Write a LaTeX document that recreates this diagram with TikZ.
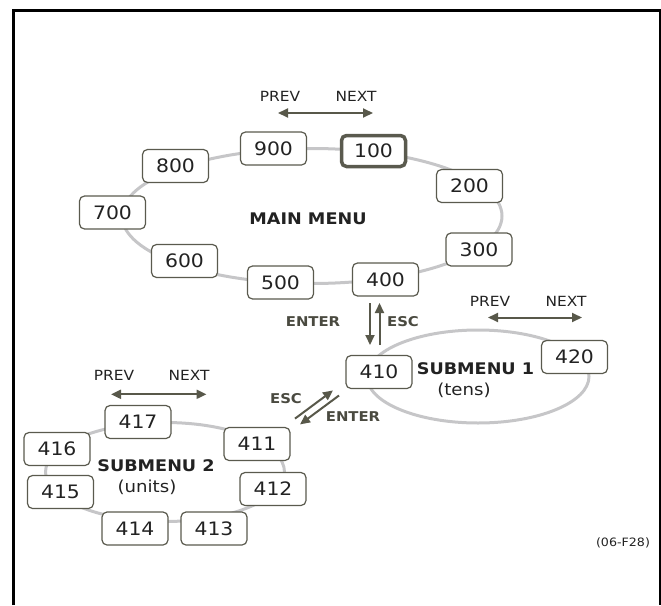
\documentclass[tikz,border=0pt]{standalone}
\usepackage{fontspec}
\setmainfont{DejaVu Sans}[FakeStretch=1.1]
\usetikzlibrary{arrows.meta}
\definecolor{ringc}{HTML}{C6C6C8}
\definecolor{boxc}{HTML}{5A5A4E}
\definecolor{arrc}{HTML}{58584A}
\definecolor{txtc}{HTML}{222222}
\definecolor{lblc}{HTML}{4A4A40}
\tikzset{
  ring/.style={draw=ringc, line width=3pt},
  menubox/.style={draw=boxc, line width=1.2pt, fill=white, rounded corners=5pt,
    minimum width=66pt, minimum height=33pt, inner sep=0pt, text=txtc,
    font=\fontsize{18.5}{20}\selectfont},
  curbox/.style={menubox, line width=3.5pt, minimum width=64pt, minimum height=31pt},
  navtxt/.style={text=txtc, font=\fontsize{14}{16}\selectfont, inner sep=0pt},
  keytxt/.style={text=lblc, font=\bfseries\fontsize{13.5}{15}\selectfont, inner sep=0pt},
  titletxt/.style={text=txtc, font=\bfseries\fontsize{16}{18}\selectfont, inner sep=0pt},
  subtxt/.style={text=txtc, font=\fontsize{16.5}{18}\selectfont, inner sep=0pt},
  navarrow/.style={draw=arrc, line width=2pt, {Triangle[length=10pt,width=9pt]}-{Triangle[length=10pt,width=9pt]}},
  keyarrow/.style={draw=arrc, line width=2pt, -{Triangle[length=10pt,width=9pt]}},
}
\begin{document}
\begin{tikzpicture}[x=1pt,y=-1pt]
\useasboundingbox (0,0) rectangle (661,605);
% frame
\draw[line width=3pt, line cap=butt] (13.5,605) -- (13.5,10.5) -- (660,10.5) -- (660,605);
% rings
\draw[ring] (312,216) ellipse [x radius=190, y radius=67.5];
\draw[ring] (478,376.5) ellipse [x radius=111, y radius=46.5];
\draw[ring] (165,472) ellipse [x radius=119.5, y radius=49.5];
% main menu boxes
\node[menubox] (m900) at (273.5,148.5) {900\hspace{4pt}};
\node[curbox]  (m100) at (373.5,151) {100\hspace{4pt}};
\node[menubox] (m800) at (175.5,166) {800\hspace{4pt}};
\node[menubox] (m200) at (469.5,186) {200\hspace{4pt}};
\node[menubox] (m700) at (112.5,212.5) {700\hspace{4pt}};
\node[menubox] (m300) at (479,249.5) {300\hspace{4pt}};
\node[menubox] (m600) at (184.5,261) {600\hspace{4pt}};
\node[menubox] (m500) at (280.5,282.5) {500\hspace{4pt}};
\node[menubox] (m400) at (385.5,279.5) {400\hspace{4pt}};
% submenu 1
\node[menubox] (s410) at (379,372) {410\hspace{4pt}};
\node[menubox] (s420) at (574.5,357) {420\hspace{4pt}};
% submenu 2
\node[menubox] (u417) at (138,422) {417\hspace{4pt}};
\node[menubox] (u416) at (57,449) {416\hspace{4pt}};
\node[menubox] (u411) at (257,444) {411\hspace{4pt}};
\node[menubox] (u415) at (60.5,492) {415\hspace{4pt}};
\node[menubox] (u412) at (273,489) {412\hspace{4pt}};
\node[menubox] (u414) at (135,528.5) {414\hspace{4pt}};
\node[menubox] (u413) at (214,528.5) {413\hspace{4pt}};
% titles
\node[titletxt,font=\bfseries\fontsize{16}{18}\selectfont] (tmain) at (308,219) {MAIN MENU};
\node[titletxt] (tsub1) at (475.5,369) {SUBMENU 1};
\node[subtxt] (tsub1b) at (464,390.5) {(tens)};
\node[titletxt] (tsub2) at (156,466) {SUBMENU 2};
\node[subtxt] (tsub2b) at (147,487) {(units)};
% nav labels and arrows
\node[navtxt] (p1) at (280,96) {PREV};
\node[navtxt] (n1) at (356,96) {NEXT};
\coordinate (a1l) at (278,113); \coordinate (a1r) at (373,113);
\draw[navarrow] (a1l) -- (a1r);
\node[navtxt] (p2) at (490,301) {PREV};
\node[navtxt] (n2) at (566,301) {NEXT};
\coordinate (a2l) at (488,317.5); \coordinate (a2r) at (582,317.5);
\draw[navarrow] (a2l) -- (a2r);
\node[navtxt] (p3) at (114,375.5) {PREV};
\node[navtxt] (n3) at (189,375.5) {NEXT};
\coordinate (a3l) at (111,394.3); \coordinate (a3r) at (206.5,394.3);
\draw[navarrow] (a3l) -- (a3r);
% enter / esc vertical
\node[keytxt] (kent1) at (313,322) {ENTER};
\node[keytxt] (kesc1) at (403,322) {ESC};
\coordinate (d1a) at (370,303); \coordinate (d1b) at (370,345);
\coordinate (u1a) at (379.5,345); \coordinate (u1b) at (379.5,303);
\draw[keyarrow] (d1a) -- (d1b);
\draw[keyarrow] (u1a) -- (u1b);
% enter / esc diagonal
\node[keytxt] (kesc2) at (286,398.5) {ESC};
\node[keytxt] (kent2) at (353,416.7) {ENTER};
\coordinate (e2a) at (295,418.6); \coordinate (e2b) at (333,390.4);
\coordinate (n2a) at (339,395.5); \coordinate (n2b) at (300,424.4);
\draw[keyarrow] (e2a) -- (e2b);
\draw[keyarrow] (n2a) -- (n2b);
% figure id
\node[text=txtc, font=\fontsize{11.5}{13}\selectfont, inner sep=0pt] (fid) at (623,543) {(06-F28)};
\end{tikzpicture}
\end{document}
